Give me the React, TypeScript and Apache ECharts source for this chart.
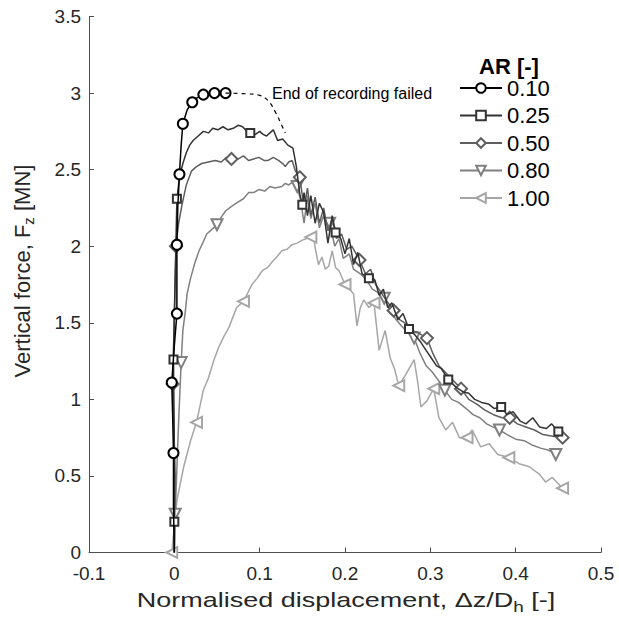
import React, { useEffect, useRef } from 'react';
import * as echarts from 'echarts';

const FONT = '"Liberation Sans", Arial, Helvetica, sans-serif';

const X_MIN = -0.1;
const X_MAX = 0.5;
const X_STEP = 0.1;
const Y_MIN = 0;
const Y_MAX = 3.5;
const Y_STEP = 0.5;

const LEGEND_TITLE = 'AR [-]';
const NAMES = ['0.10', '0.25', '0.50', '0.80', '1.00'];
const ANNOTATION = 'End of recording failed';

// [x, y, marker(1 = marker drawn)]
const AR010: number[][] = [
  [0, 0, 0], [-0.001, 0.3, 0], [-0.001, 0.65, 1], [-0.002, 0.9, 0], [-0.003, 1.11, 1], [0, 1.35, 0],
  [0.003, 1.56, 1], [0.003, 1.8, 0], [0.003, 2.01, 1], [0.004, 2.25, 0], [0.006, 2.47, 1],
  [0.008, 2.66, 0], [0.01, 2.8, 1], [0.015, 2.89, 0], [0.021, 2.94, 1], [0.027, 2.97, 0],
  [0.034, 2.99, 1], [0.04, 2.99, 0], [0.047, 3.0, 1], [0.053, 2.99, 0], [0.06, 3.0, 1],
];

const AR010_DASH: number[][] = [
  [0.06, 3.0], [0.085, 2.995], [0.1, 2.985], [0.11, 2.95], [0.119, 2.87], [0.125, 2.8], [0.13, 2.74],
];

const AR025: number[][] = [
  [0, 0, 0], [0, 0.2, 1], [0, 0.7, 0], [-0.001, 1.26, 1], [0.001, 1.8, 0], [0.003, 2.31, 1],
  [0.006, 2.45, 0], [0.01, 2.54, 0], [0.014, 2.61, 0], [0.018, 2.66, 0], [0.022, 2.69, 0],
  [0.028, 2.72, 0], [0.034, 2.75, 0], [0.04, 2.74, 0], [0.045, 2.77, 0], [0.051, 2.76, 0],
  [0.057, 2.78, 0], [0.063, 2.76, 0], [0.069, 2.77, 0], [0.075, 2.79, 0], [0.08, 2.78, 0],
  [0.085, 2.75, 0], [0.089, 2.74, 1], [0.095, 2.73, 0], [0.1, 2.75, 0], [0.104, 2.73, 0],
  [0.108, 2.72, 0], [0.112, 2.74, 0], [0.116, 2.76, 0], [0.121, 2.69, 0], [0.127, 2.7, 0],
  [0.133, 2.66, 0], [0.139, 2.64, 0], [0.143, 2.52, 0], [0.147, 2.34, 0], [0.15, 2.27, 1],
  [0.152, 2.35, 0], [0.156, 2.2, 0], [0.16, 2.33, 0], [0.165, 2.15, 0], [0.17, 2.28, 0],
  [0.175, 2.22, 0], [0.18, 2.02, 0], [0.185, 2.2, 0], [0.189, 2.09, 1], [0.195, 2.05, 0],
  [0.2, 1.95, 0], [0.205, 2.05, 0], [0.21, 1.88, 0], [0.215, 1.96, 0], [0.22, 1.82, 0],
  [0.228, 1.79, 1], [0.235, 1.78, 0], [0.24, 1.68, 0], [0.245, 1.72, 0], [0.25, 1.6, 0],
  [0.255, 1.63, 0], [0.262, 1.52, 0], [0.268, 1.56, 0], [0.275, 1.46, 1], [0.282, 1.42, 0],
  [0.288, 1.38, 0], [0.295, 1.32, 0], [0.3, 1.28, 0], [0.307, 1.22, 0], [0.313, 1.2, 0],
  [0.321, 1.13, 1], [0.33, 1.08, 0], [0.338, 1.05, 0], [0.345, 1.04, 0], [0.352, 1.0, 0],
  [0.36, 0.98, 0], [0.368, 0.97, 0], [0.375, 0.94, 0], [0.383, 0.95, 1], [0.39, 0.9, 0],
  [0.397, 0.92, 0], [0.405, 0.86, 0], [0.412, 0.84, 0], [0.42, 0.88, 0], [0.428, 0.82, 0],
  [0.436, 0.81, 0], [0.442, 0.84, 0], [0.45, 0.79, 1], [0.455, 0.77, 0],
];

const AR050: number[][] = [
  [0, 0, 0], [0.001, 0.5, 0], [-0.002, 1.1, 1], [0, 1.55, 0], [0.002, 2.0, 1], [0.005, 2.15, 0],
  [0.009, 2.27, 0], [0.014, 2.4, 0], [0.02, 2.49, 0], [0.026, 2.52, 0], [0.032, 2.54, 0],
  [0.04, 2.55, 0], [0.048, 2.56, 0], [0.055, 2.55, 0], [0.061, 2.58, 0], [0.067, 2.57, 1],
  [0.075, 2.57, 0], [0.081, 2.59, 0], [0.087, 2.56, 0], [0.093, 2.57, 0], [0.099, 2.58, 0],
  [0.105, 2.56, 0], [0.11, 2.56, 0], [0.116, 2.58, 0], [0.122, 2.56, 0], [0.127, 2.54, 0],
  [0.13, 2.52, 0], [0.134, 2.55, 0], [0.138, 2.56, 0], [0.142, 2.49, 0], [0.147, 2.45, 1],
  [0.152, 2.25, 0], [0.156, 2.38, 0], [0.16, 2.2, 0], [0.165, 2.32, 0], [0.17, 2.15, 0],
  [0.175, 2.25, 0], [0.18, 2.1, 0], [0.185, 2.18, 0], [0.19, 2.05, 0], [0.196, 2.08, 0],
  [0.202, 1.98, 0], [0.208, 2.0, 0], [0.217, 1.91, 1], [0.224, 1.82, 0], [0.23, 1.85, 0],
  [0.236, 1.75, 0], [0.242, 1.7, 0], [0.248, 1.65, 0], [0.257, 1.58, 1], [0.264, 1.52, 0],
  [0.27, 1.5, 0], [0.277, 1.45, 0], [0.284, 1.44, 0], [0.296, 1.4, 1], [0.303, 1.3, 0],
  [0.31, 1.22, 0], [0.317, 1.18, 0], [0.324, 1.14, 0], [0.336, 1.07, 1], [0.345, 1.0, 0],
  [0.354, 0.97, 0], [0.364, 0.93, 0], [0.374, 0.9, 0], [0.384, 0.88, 0], [0.393, 0.88, 1],
  [0.402, 0.84, 0], [0.412, 0.82, 0], [0.422, 0.8, 0], [0.432, 0.77, 0], [0.442, 0.76, 0],
  [0.455, 0.75, 1],
];

const AR080: number[][] = [
  [0, 0, 0], [0.001, 0.25, 1], [0.003, 0.55, 0], [0.005, 0.85, 0], [0.008, 1.24, 1],
  [0.01, 1.45, 0], [0.013, 1.58, 0], [0.015, 1.69, 0], [0.019, 1.79, 0], [0.024, 1.89, 0],
  [0.029, 1.97, 0], [0.034, 2.03, 0], [0.038, 2.08, 0], [0.044, 2.11, 0], [0.05, 2.14, 1],
  [0.055, 2.19, 0], [0.06, 2.23, 0], [0.067, 2.26, 0], [0.075, 2.29, 0], [0.081, 2.31, 0],
  [0.087, 2.35, 0], [0.093, 2.35, 0], [0.099, 2.37, 0], [0.106, 2.36, 0], [0.112, 2.39, 0],
  [0.118, 2.38, 0], [0.126, 2.39, 0], [0.13, 2.41, 0], [0.134, 2.4, 0], [0.139, 2.42, 0],
  [0.144, 2.39, 1], [0.148, 2.3, 0], [0.152, 2.15, 0], [0.156, 2.33, 0], [0.16, 2.18, 0],
  [0.165, 2.28, 0], [0.17, 2.12, 0], [0.175, 2.2, 0], [0.182, 2.15, 1], [0.188, 2.0, 0],
  [0.193, 2.05, 0], [0.198, 1.92, 0], [0.205, 1.95, 0], [0.21, 1.85, 0], [0.218, 1.82, 0],
  [0.225, 1.78, 0], [0.232, 1.72, 0], [0.238, 1.7, 0], [0.246, 1.66, 1], [0.253, 1.58, 0],
  [0.26, 1.52, 0], [0.266, 1.48, 0], [0.273, 1.44, 0], [0.281, 1.4, 1], [0.288, 1.3, 0],
  [0.295, 1.22, 0], [0.302, 1.18, 0], [0.31, 1.12, 0], [0.317, 1.06, 1], [0.325, 1.0, 0],
  [0.333, 0.98, 0], [0.342, 0.94, 0], [0.35, 0.9, 0], [0.358, 0.88, 0], [0.366, 0.84, 0],
  [0.373, 0.82, 0], [0.381, 0.8, 1], [0.39, 0.77, 0], [0.4, 0.74, 0], [0.41, 0.73, 0],
  [0.42, 0.7, 0], [0.43, 0.68, 0], [0.438, 0.67, 0], [0.447, 0.64, 1],
];

const AR100: number[][] = [
  [-0.003, 0, 1], [0.003, 0.34, 0], [0.011, 0.56, 0], [0.019, 0.73, 0], [0.026, 0.85, 1],
  [0.034, 1.06, 0], [0.04, 1.14, 0], [0.046, 1.25, 0], [0.052, 1.34, 0], [0.058, 1.41, 0],
  [0.064, 1.47, 0], [0.073, 1.6, 0], [0.081, 1.64, 1], [0.091, 1.75, 0], [0.097, 1.79, 0],
  [0.103, 1.84, 0], [0.109, 1.86, 0], [0.115, 1.9, 0], [0.12, 1.93, 0], [0.126, 1.97, 0],
  [0.132, 1.98, 0], [0.138, 2.01, 0], [0.144, 2.02, 0], [0.15, 2.04, 0], [0.155, 2.05, 0],
  [0.16, 2.06, 1], [0.163, 2.08, 0], [0.165, 1.99, 0], [0.169, 1.88, 0], [0.173, 1.93, 0],
  [0.177, 1.85, 0], [0.181, 1.87, 0], [0.185, 1.97, 0], [0.189, 1.86, 0], [0.193, 1.84, 0],
  [0.2, 1.75, 1], [0.205, 1.72, 0], [0.21, 1.69, 0], [0.214, 1.48, 0], [0.218, 1.6, 0],
  [0.222, 1.65, 0], [0.228, 1.6, 0], [0.234, 1.63, 1], [0.24, 1.32, 0], [0.247, 1.45, 0],
  [0.253, 1.27, 0], [0.258, 1.2, 0], [0.263, 1.09, 1], [0.271, 1.16, 0], [0.281, 1.26, 0],
  [0.285, 1.12, 0], [0.289, 0.95, 0], [0.296, 0.99, 0], [0.304, 1.07, 1], [0.31, 0.88, 0],
  [0.318, 0.8, 0], [0.326, 0.85, 0], [0.334, 0.75, 0], [0.343, 0.75, 1], [0.349, 0.8, 0],
  [0.359, 0.69, 0], [0.369, 0.71, 0], [0.379, 0.64, 0], [0.392, 0.62, 1], [0.404, 0.58, 0],
  [0.416, 0.56, 0], [0.428, 0.51, 0], [0.435, 0.46, 0], [0.443, 0.49, 0], [0.455, 0.42, 1],
];

const COLORS = ['#000000', '#333333', '#5e5e5e', '#808080', '#a6a6a6'];
const SYMBOLS = ['emptyCircle', 'emptyRect', 'emptyDiamond', 'emptyTriangle', 'emptyTriangle'];
const SYMBOL_ROTATE = [0, 0, 0, 180, 90];
const SYMBOL_SIZE = [10, 8, 12, 11, 11];
const DATASETS = [AR010, AR025, AR050, AR080, AR100];

function makeSeries(i: number) {
  const sym = SYMBOLS[i];
  return {
    type: 'line',
    name: NAMES[i],
    symbol: sym,
    symbolSize: SYMBOL_SIZE[i],
    symbolRotate: SYMBOL_ROTATE[i],
    showSymbol: true,
    showAllSymbol: true,
    z: 10 - i,
    lineStyle: { color: COLORS[i], width: 1.5 },
    itemStyle: { color: COLORS[i], borderColor: COLORS[i], borderWidth: 1.3 },
    emphasis: { disabled: true },
    data: DATASETS[i].map((p) => ({ value: [p[0], p[1]], symbol: p[2] ? sym : 'none' })),
  };
}

export default function App() {
  const ref = useRef<HTMLDivElement>(null);
  useEffect(() => {
    document.body.style.margin = '0';
    if (!ref.current) return;
    const chart = echarts.init(ref.current, undefined, { renderer: 'svg' });
    const series: any[] = NAMES.map((_, i) => makeSeries(i));
    series.push({
      type: 'line',
      name: 'dash',
      data: AR010_DASH,
      symbol: 'none',
      smooth: 0.4,
      z: 11,
      lineStyle: { color: '#000', width: 1.2, type: [4, 4] },
      emphasis: { disabled: true },
      silent: true,
    });
    chart.setOption({
      animation: false,
      backgroundColor: '#ffffff',
      grid: { left: 89, right: 18, top: 16.5, bottom: 66.5, containLabel: false },
      xAxis: {
        type: 'value',
        min: X_MIN,
        max: X_MAX,
        interval: X_STEP,
        axisLine: { show: true, onZero: false, lineStyle: { color: '#4d4d4d', width: 1 } },
        axisTick: { show: true, inside: true, length: 5, lineStyle: { color: '#4d4d4d' } },
        axisLabel: { color: '#262626', fontSize: 19, fontFamily: FONT, margin: 11 },
        splitLine: { show: false },
      },
      yAxis: {
        type: 'value',
        min: Y_MIN,
        max: Y_MAX,
        interval: Y_STEP,
        axisLine: { show: true, onZero: false, lineStyle: { color: '#4d4d4d', width: 1 } },
        axisTick: { show: true, inside: true, length: 5, lineStyle: { color: '#4d4d4d' } },
        axisLabel: { color: '#262626', fontSize: 19, fontFamily: FONT, margin: 8 },
        splitLine: { show: false },
      },
      legend: {
        data: NAMES,
        orient: 'vertical',
        left: 454,
        top: 72,
        itemWidth: 42,
        itemHeight: 12,
        itemGap: 5.5,
        selectedMode: false,
        textStyle: { color: '#000', fontSize: 22, fontFamily: FONT },
      },
      graphic: [
        {
          type: 'text',
          left: 479,
          top: 55,
          style: { text: LEGEND_TITLE, font: `bold 22px ${FONT}`, fill: '#000' },
        },
        {
          type: 'text',
          x: 272,
          y: 93,
          style: {
            text: ANNOTATION,
            font: `16px ${FONT}`,
            fill: '#000',
            verticalAlign: 'middle',
            textVerticalAlign: 'middle',
          },
        },
        {
          type: 'text',
          x: 346,
          y: 600,
          scaleX: 1.35,
          style: {
            text: '{n|Normalised displacement, Δz/D}{s|h}{n| [-]}',
            align: 'center',
            textAlign: 'center',
            verticalAlign: 'middle',
            textVerticalAlign: 'middle',
            fill: '#262626',
            rich: {
              n: { fontSize: 20, fontFamily: FONT, lineHeight: 28, fill: '#262626', color: '#262626' },
              s: { fontSize: 14, fontFamily: FONT, lineHeight: 14, verticalAlign: 'bottom', fill: '#262626', color: '#262626' },
            },
          },
        },
        {
          type: 'text',
          x: 22,
          y: 271,
          rotation: Math.PI / 2,
          style: {
            text: '{n|Vertical force, F}{s|z}{n| [MN]}',
            align: 'center',
            textAlign: 'center',
            verticalAlign: 'middle',
            textVerticalAlign: 'middle',
            fill: '#262626',
            rich: {
              n: { fontSize: 22, fontFamily: FONT, lineHeight: 28, fill: '#262626', color: '#262626' },
              s: { fontSize: 15, fontFamily: FONT, lineHeight: 14, verticalAlign: 'bottom', fill: '#262626', color: '#262626' },
            },
          },
        },
      ],
      series,
    });
    return () => chart.dispose();
  }, []);
  return <div ref={ref} style={{ width: 619, height: 619 }} />;
}
